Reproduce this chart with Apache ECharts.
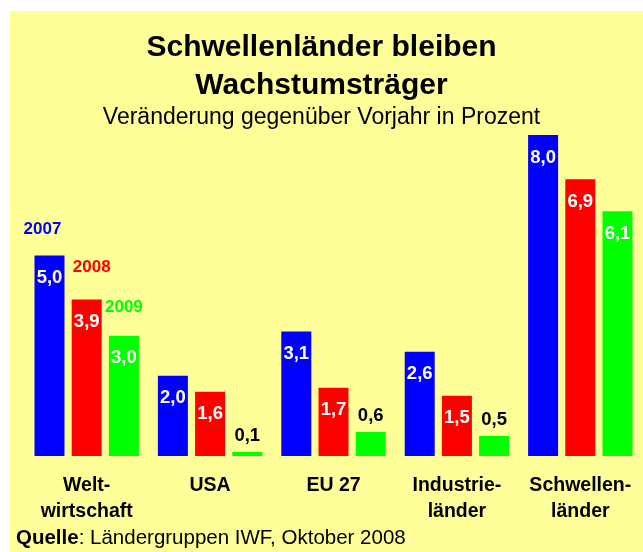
<!DOCTYPE html>
<html>
<head>
<meta charset="utf-8">
<script src="https://cdn.jsdelivr.net/npm/echarts@6/dist/echarts.min.js"></script>
<style>
    html, body { margin: 0; padding: 0; background: #fff; }
    #main { width: 643px; height: 552px; }
</style>
</head>
<body>
<div id="main"></div>
<script>
// Veränderung gegenüber Vorjahr in Prozent
var categories = ['Welt-\nwirtschaft', 'USA', 'EU 27', 'Industrie-\nländer', 'Schwellen-\nländer']
var years = ['2007', '2008', '2009']
var values2007 = [5.0, 2.0, 3.1, 2.6, 8.0]
var values2008 = [3.9, 1.6, 1.7, 1.5, 6.9]
var values2009 = [3.0, 0.1, 0.6, 0.5, 6.1]

var colors = ['#0000ff', '#ff0000', '#00ff00']
// where the year name sits over the first group
var yearOffsets = [[-7, -26], [5, -32], [0, -28]]
var font = '"Liberation Sans", Arial, sans-serif'

function fmt(v) {
    return v.toFixed(1).replace('.', ',')
}

function makeSeries(name, values, idx) {
    return {
        name: name,
        type: 'bar',
        barWidth: 30,
        barGap: '24%',
        itemStyle: { color: colors[idx] },
        label: {
            show: true,
            position: 'insideTop',
            distance: 13,
            color: '#fff',
            fontFamily: font,
            fontWeight: 'bold',
            fontSize: 18.5,
            formatter: function (p) { return fmt(p.value) }
        },
        data: values.map(function (v) {
            if (v < 1) {
                return {
                    value: v,
                    label: { position: 'top', distance: 7, color: '#000' }
                }
            }
            return v
        }),
        markPoint: {
            symbol: 'circle',
            symbolSize: 0,
            silent: true,
            label: {
                show: true,
                position: 'inside',
                offset: yearOffsets[idx],
                color: colors[idx],
                fontFamily: font,
                fontWeight: 'bold',
                fontSize: 17,
                formatter: name
            },
            data: [{ coord: [0, values[0]] }]
        }
    }
}

var chart = echarts.init(document.getElementById('main'))

var option = {
    backgroundColor: '#fff',
    animation: false,
    graphic: [{
        type: 'rect',
        z: -10,
        shape: { x: 10, y: 11, width: 633, height: 541 },
        style: { fill: '#ffff99' }
    }],
    title: [{
        text: 'Schwellenländer bleiben\nWachstumsträger',
        left: 'center',
        top: 29,
        padding: 0,
        textStyle: {
            fontFamily: font,
            fontWeight: 'bold',
            fontSize: 30,
            lineHeight: 38,
            color: '#000'
        }
    }, {
        text: 'Veränderung gegenüber Vorjahr in Prozent',
        left: 'center',
        top: 106,
        padding: 0,
        textStyle: {
            fontFamily: font,
            fontWeight: 'normal',
            fontSize: 23,
            lineHeight: 24,
            color: '#000'
        }
    }, {
        text: '{b|Quelle}: Ländergruppen IWF, Oktober 2008',
        left: 16,
        top: 527,
        padding: 0,
        textStyle: {
            fontFamily: font,
            fontWeight: 'normal',
            fontSize: 20.5,
            lineHeight: 22,
            color: '#000',
            rich: {
                b: { fontFamily: font, fontWeight: 'bold', fontSize: 20.5, color: '#000' }
            }
        }
    }],
    grid: {
        left: 25,
        right: 1,
        top: 135,
        bottom: 96,
        containLabel: false
    },
    xAxis: {
        type: 'category',
        data: categories,
        axisLine: { show: false },
        axisTick: { show: false },
        axisLabel: {
            margin: 17,
            interval: 0,
            color: '#000',
            fontFamily: font,
            fontWeight: 'bold',
            fontSize: 19.5,
            lineHeight: 26
        }
    },
    yAxis: {
        type: 'value',
        min: 0,
        max: 8,
        show: false,
        splitLine: { show: false }
    },
    series: [
        makeSeries(years[0], values2007, 0),
        makeSeries(years[1], values2008, 1),
        makeSeries(years[2], values2009, 2)
    ]
}
chart.setOption(option)
</script>
</body>
</html>
